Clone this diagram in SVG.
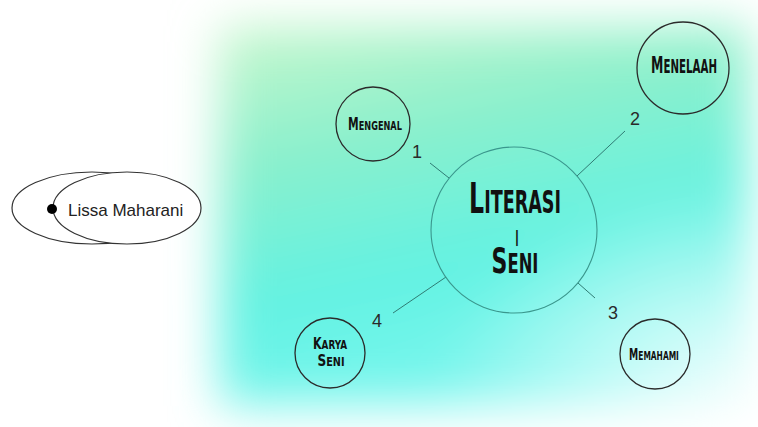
<svg xmlns="http://www.w3.org/2000/svg" width="758" height="427" viewBox="0 0 758 427">
<style>
.node{fill:none;stroke:#2b2b2b;stroke-width:1.3}
.title{font-family:"Liberation Sans Narrow","DejaVu Sans Condensed",sans-serif;font-weight:bold;fill:#111;text-anchor:middle}
.num{font-family:"Liberation Sans",Arial,sans-serif;font-size:18px;fill:#2a2a2a;text-anchor:middle}
.conn{stroke:#2f7c74;stroke-width:1;fill:none}
</style>
<defs>
<linearGradient id="bg" x1="0" y1="0" x2="0.3" y2="1">
<stop offset="0" stop-color="#c9f7cc"/>
<stop offset="0.35" stop-color="#8af0cc"/>
<stop offset="0.7" stop-color="#62f2e2"/>
<stop offset="1" stop-color="#7af6ee"/>
</linearGradient>
<radialGradient id="fadeR" cx="1" cy="1" r="0.6">
<stop offset="0" stop-color="#ffffff" stop-opacity="0.95"/>
<stop offset="1" stop-color="#ffffff" stop-opacity="0"/>
</radialGradient>
<filter id="blur" x="-20%" y="-20%" width="140%" height="140%">
<feGaussianBlur stdDeviation="24"/>
</filter>
</defs>
<rect width="758" height="427" fill="#ffffff"/>
<g id="background" filter="url(#blur)">
<rect x="220" y="26" width="528" height="380" fill="url(#bg)"/>
<rect x="220" y="26" width="528" height="380" fill="url(#fadeR)"/>
</g>
<g id="connectors">
<line class="conn" x1="430" y1="163" x2="449" y2="178"/>
<line class="conn" x1="625" y1="131" x2="577" y2="176"/>
<line class="conn" x1="595" y1="298" x2="578" y2="283"/>
<line class="conn" x1="393" y1="313" x2="446" y2="277"/>
</g>
<g id="author">
<ellipse cx="92" cy="208" rx="80" ry="36" fill="#fff" stroke="#333" stroke-width="1.2"/>
<ellipse cx="127" cy="208" rx="74" ry="36" fill="#fff" stroke="#333" stroke-width="1.2"/>
<circle cx="52" cy="209" r="5" fill="#000"/>
<text x="68" y="216" font-family="Liberation Sans,Arial,sans-serif" font-size="17" fill="#222">Lissa Maharani</text>
</g>
<g id="center">
<circle cx="514" cy="230" r="83" fill="none" stroke="#3a978d" stroke-width="1.1"/>
<text class="title" transform="translate(515,213) scale(0.61,1)"><tspan font-size="43">L</tspan><tspan font-size="32">ITERASI</tspan></text>
<text class="title" x="517" y="242" font-size="15" font-weight="normal">|</text>
<text class="title" transform="translate(515,273) scale(0.7,1)"><tspan font-size="35">S</tspan><tspan font-size="26">ENI</tspan></text>
</g>
<g id="mengenal">
<circle class="node" cx="373" cy="124" r="37"/>
<text class="title" transform="translate(375,130) scale(0.7,1)"><tspan font-size="17">M</tspan><tspan font-size="13">ENGENAL</tspan></text>
<text class="num" x="417" y="158">1</text>
</g>
<g id="menelaah">
<circle class="node" cx="683" cy="68" r="46"/>
<text class="title" transform="translate(684,73) scale(0.6,1)"><tspan font-size="23">M</tspan><tspan font-size="19">ENELAAH</tspan></text>
<text class="num" x="635" y="125">2</text>
</g>
<g id="memahami">
<circle class="node" cx="655" cy="354" r="35"/>
<text class="title" transform="translate(654,360) scale(0.64,1)"><tspan font-size="16">M</tspan><tspan font-size="13">EMAHAMI</tspan></text>
<text class="num" x="613" y="319">3</text>
</g>
<g id="karya-seni">
<circle class="node" cx="330" cy="353" r="35"/>
<text class="title" transform="translate(330,349) scale(0.82,1)"><tspan font-size="15">K</tspan><tspan font-size="12">ARYA</tspan></text>
<text class="title" transform="translate(331,366) scale(0.9,1)"><tspan font-size="15">S</tspan><tspan font-size="12">ENI</tspan></text>
<text class="num" x="377" y="327">4</text>
</g>
</svg>
